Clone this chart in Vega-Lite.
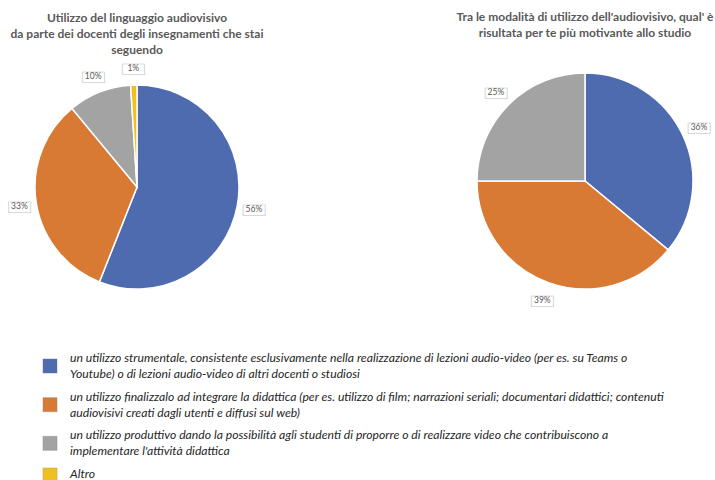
{
  "$schema": "https://vega.github.io/schema/vega-lite/v6.json",
  "padding": {"left": 0, "top": 11, "right": 0, "bottom": 0},
  "background": "white",
  "config": {"view": {"stroke": null}, "font": "Lato"},
  "datasets": {
    "docenti": [
      {"voce": "a", "quota": 0.56},
      {"voce": "b", "quota": 0.33},
      {"voce": "c", "quota": 0.10},
      {"voce": "d", "quota": 0.01}
    ],
    "motivante": [
      {"voce": "a", "quota": 0.36},
      {"voce": "b", "quota": 0.39},
      {"voce": "c", "quota": 0.25}
    ],
    "voci": [
      {"voce": "a", "righe": 2, "testo": "un utilizzo strumentale, consistente esclusivamente nella realizzazione di lezioni audio-video (per es. su Teams o\nYoutube) o di lezioni audio-video di altri docenti o studiosi"},
      {"voce": "b", "righe": 2, "testo": "un utilizzo finalizzalo ad integrare la didattica (per es. utilizzo di film; narrazioni seriali; documentari didattici; contenuti\naudiovisivi creati dagli utenti e diffusi sul web)"},
      {"voce": "c", "righe": 2, "testo": "un utilizzo produttivo dando la possibilità agli studenti di proporre o di realizzare video che contribuiscono a\nimplementare l'attività didattica"},
      {"voce": "d", "righe": 1, "testo": "Altro"}
    ]
  },
  "vconcat": [
    {
      "hconcat": [
        {
          "title": {
            "text": ["Utilizzo del linguaggio audiovisivo", "da parte dei docenti degli insegnamenti che stai", "seguendo"],
            "fontSize": 12, "fontWeight": "bold", "color": "#595959", "lineHeight": 16,
            "anchor": "middle", "frame": "group", "offset": -3
          },
          "width": 274,
          "height": 254,
          "data": {"name": "docenti"},
          "encoding": {
            "theta": {"field": "quota", "type": "quantitative", "stack": true},
            "order": {"field": "voce", "type": "nominal", "sort": "ascending"},
            "color": {
              "field": "voce", "type": "nominal", "legend": null,
              "scale": {"domain": ["a", "b", "c", "d"], "range": ["#4F6BAF", "#D87A34", "#A3A3A3", "#F0C020"]}
            }
          },
          "layer": [
            {"mark": {"type": "arc", "outerRadius": 102, "stroke": "white", "strokeWidth": 1.5}},
            {
              "mark": {"type": "text", "text": "▬", "font": "DejaVu Sans", "fontSize": 29, "radius": 119, "fill": "white", "stroke": "#BFBFBF", "strokeWidth": 0.6},
              "encoding": {"color": {"value": "white"}}
            },
            {
              "mark": {"type": "text", "radius": 119, "fontSize": 8.5, "fill": "#595959"},
              "encoding": {"text": {"field": "quota", "type": "quantitative", "format": ".0%"}, "color": {"value": "#595959"}}
            }
          ]
        },
        {
          "title": {
            "text": ["Tra le modalità di utilizzo dell'audiovisivo, qual' è", "risultata per te più motivante allo studio"],
            "fontSize": 12, "fontWeight": "bold", "color": "#595959", "lineHeight": 16,
            "anchor": "middle", "frame": "group", "offset": 20
          },
          "width": 260,
          "height": 242,
          "data": {"name": "motivante"},
          "encoding": {
            "theta": {"field": "quota", "type": "quantitative", "stack": true},
            "order": {"field": "voce", "type": "nominal", "sort": "ascending"},
            "color": {
              "field": "voce", "type": "nominal", "legend": null,
              "scale": {"domain": ["a", "b", "c", "d"], "range": ["#4F6BAF", "#D87A34", "#A3A3A3", "#F0C020"]}
            }
          },
          "layer": [
            {"mark": {"type": "arc", "outerRadius": 108, "stroke": "white", "strokeWidth": 1.5}},
            {
              "mark": {"type": "text", "text": "▬", "font": "DejaVu Sans", "fontSize": 29, "radius": 126, "fill": "white", "stroke": "#BFBFBF", "strokeWidth": 0.6},
              "encoding": {"color": {"value": "white"}}
            },
            {
              "mark": {"type": "text", "radius": 126, "fontSize": 8.5, "fill": "#595959"},
              "encoding": {"text": {"field": "quota", "type": "quantitative", "format": ".0%"}, "color": {"value": "#595959"}}
            }
          ]
        }
      ],
      "spacing": 181
    },
    {
      "width": 100,
      "height": 116,
      "data": {"name": "voci"},
      "encoding": {
        "y": {"field": "voce", "type": "nominal", "axis": null, "scale": {"type": "point", "padding": 0}}
      },
      "layer": [
        {
          "mark": {"type": "point", "shape": "square", "filled": true, "size": 200, "opacity": 1, "stroke": "#7F7F7F", "strokeWidth": 0.5, "strokeOpacity": 0.6},
          "encoding": {
            "yOffset": {"field": "righe", "type": "quantitative", "scale": {"domain": [1, 2], "range": [1, 8]}},
            "color": {
              "field": "voce", "type": "nominal", "legend": null,
              "scale": {"domain": ["a", "b", "c", "d"], "range": ["#4F6BAF", "#D87A34", "#A3A3A3", "#F0C020"]}
            }
          }
        },
        {
          "mark": {"type": "text", "align": "left", "dx": 20, "lineBreak": "\n", "lineHeight": 16, "fontSize": 12.2, "fontStyle": "italic", "color": "#262626"},
          "encoding": {"text": {"field": "testo", "type": "nominal"}}
        }
      ]
    }
  ],
  "spacing": 37
}
